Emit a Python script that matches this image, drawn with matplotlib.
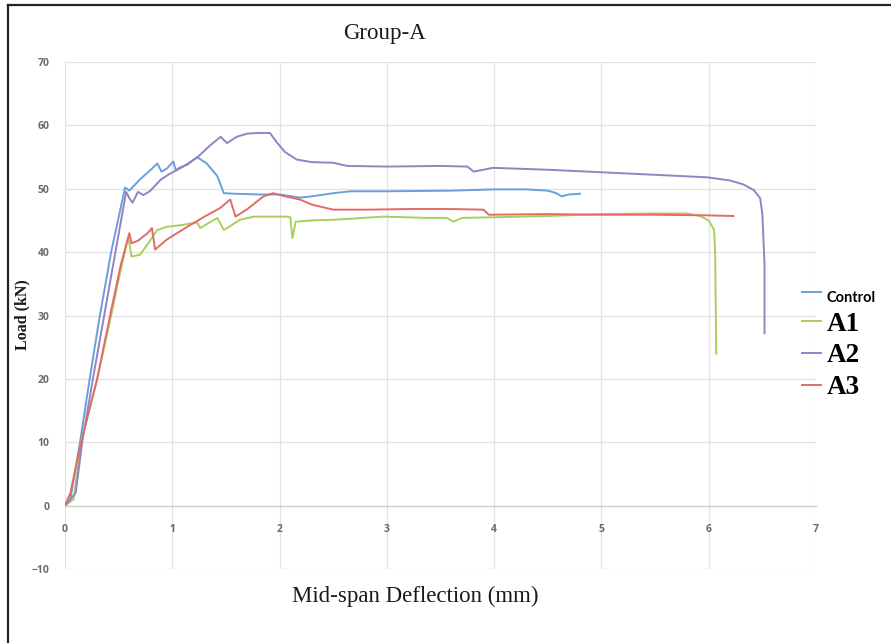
import matplotlib
matplotlib.use("Agg")
import matplotlib.pyplot as plt
from matplotlib.lines import Line2D
from matplotlib.font_manager import FontProperties

# load-deflection curves
control_x = [0, 0.05, 0.14, 0.23, 0.32, 0.43, 0.56, 0.6, 0.7, 0.8, 0.86, 0.9, 0.95, 1.01, 1.03,
             1.08, 1.14, 1.23, 1.32, 1.42, 1.48, 1.6, 1.8, 2.0, 2.19, 2.3, 2.38, 2.5, 2.66, 3.0,
             3.6, 4.0, 4.3, 4.5, 4.58, 4.63, 4.7, 4.8]
control_y = [0, 1, 10, 20, 29.5, 40, 50.2, 49.7, 51.5, 53, 54, 52.7, 53.2, 54.3, 53,
             53.4, 53.8, 55, 54, 52, 49.3, 49.2, 49.1, 49.1, 48.6, 48.8, 49, 49.3, 49.6, 49.6,
             49.7, 49.9, 49.9, 49.7, 49.3, 48.8, 49.1, 49.2]

a1_x = [0, 0.08, 0.15, 0.3, 0.43, 0.53, 0.59, 0.62, 0.7, 0.78, 0.86, 0.95, 1.1, 1.23, 1.26,
        1.32, 1.42, 1.48, 1.53, 1.63, 1.76, 2.07, 2.1, 2.12, 2.15, 2.3, 2.5, 2.97, 3.38, 3.56,
        3.62, 3.7, 4.0, 4.5, 5.0, 5.5, 5.8, 5.92, 6.0, 6.05, 6.06, 6.07]
a1_y = [0, 1, 10, 20, 30, 38, 42.4, 39.3, 39.6, 41.5, 43.5, 44, 44.3, 44.7, 43.8,
        44.4, 45.4, 43.5, 44, 45.1, 45.6, 45.6, 45.5, 42.2, 44.8, 45.0, 45.1, 45.6, 45.4, 45.4,
        44.8, 45.4, 45.5, 45.7, 46.0, 46.1, 46.1, 45.7, 45.0, 43.5, 40, 24]

a2_x = [0, 0.1, 0.16, 0.26, 0.36, 0.47, 0.57, 0.6, 0.63, 0.68, 0.73, 0.79, 0.89, 0.97, 1.05,
        1.15, 1.23, 1.35, 1.45, 1.51, 1.6, 1.7, 1.8, 1.91, 1.98, 2.05, 2.16, 2.3, 2.5, 2.63,
        3.0, 3.5, 3.75, 3.81, 3.9, 3.99, 4.5, 5.0, 5.5, 5.99, 6.2, 6.32, 6.42, 6.48, 6.5,
        6.52, 6.52]
a2_y = [0, 2, 10, 20, 29.5, 40, 49.5, 48.5, 47.8, 49.5, 49, 49.6, 51.4, 52.3, 53,
        54, 54.9, 56.8, 58.2, 57.2, 58.2, 58.7, 58.8, 58.8, 57.2, 55.8, 54.6, 54.2, 54.1, 53.6,
        53.5, 53.6, 53.5, 52.7, 53.0, 53.3, 53.0, 52.6, 52.2, 51.8, 51.3, 50.7, 49.8, 48.5, 46,
        38, 27.2]

a3_x = [0, 0.05, 0.15, 0.3, 0.42, 0.52, 0.6, 0.62, 0.68, 0.77, 0.81, 0.84, 0.95, 1.14, 1.3,
        1.45, 1.54, 1.59, 1.7, 1.85, 1.94, 2.05, 2.19, 2.3, 2.5, 2.8, 3.2, 3.6, 3.9, 3.95,
        4.5, 5.0, 5.5, 6.0, 6.23]
a3_y = [0, 2, 10, 20, 30, 38, 43, 41.4, 41.8, 43, 43.8, 40.4, 42, 44, 45.6,
        47, 48.3, 45.6, 46.8, 48.8, 49.3, 48.8, 48.3, 47.5, 46.7, 46.7, 46.8, 46.8, 46.7, 45.9,
        46.0, 45.9, 45.9, 45.8, 45.7]

series = [
    ("Control", control_x, control_y, "#6a9fd8"),
    ("A1", a1_x, a1_y, "#a9cf5c"),
    ("A2", a2_x, a2_y, "#9283c4"),
    ("A3", a3_x, a3_y, "#e36b66"),
]

x_ticks = [0, 1, 2, 3, 4, 5, 6, 7]
y_ticks = [-10, 0, 10, 20, 30, 40, 50, 60, 70]

W, H = 891, 643
fig = plt.figure(figsize=(W / 100, H / 100), dpi=100)
ax = fig.add_axes([65 / W, 1 - 569 / H, (816 - 65) / W, (569 - 62) / H])

lines = []
for name, xs, ys, color in series:
    ln, = ax.plot(xs, ys, color=color, linewidth=1.4, label=name, solid_joinstyle="round")
    lines.append(ln)

ax.set_xlim(0, 7)
ax.set_ylim(-10, 70)
ax.set_xticks(x_ticks)
ax.set_yticks(y_ticks)
ax.grid(True, color="#e2e2e2", linewidth=0.9)
ax.set_axisbelow(True)
for side in ("top", "right", "left"):
    ax.spines[side].set_visible(False)
ax.spines["bottom"].set_position(("data", 0))
ax.spines["bottom"].set_color("#d0d0d0")
ax.spines["bottom"].set_linewidth(1.0)

tick_font = FontProperties(family="Open Sans", weight="bold", size=7.5)
ax.tick_params(axis="both", length=0, colors="#6b6b6b")
ax.tick_params(axis="x", pad=13)
ax.tick_params(axis="y", pad=11)
for lab in ax.get_xticklabels() + ax.get_yticklabels():
    lab.set_fontproperties(tick_font)

fig.text(385 / W, 1 - 33 / H, "Group-A", family="Liberation Serif", fontsize=16.5,
         ha="center", va="center", color="#1a1a1a")
fig.text(415 / W, 1 - 596 / H, "Mid-span Deflection (mm)", family="Liberation Serif",
         fontsize=16.5, ha="center", va="center", color="#1a1a1a")
fig.text(22 / W, 1 - 315 / H, "Load (kN)", family="Liberation Serif", weight="bold",
         fontsize=11.5, rotation=90, ha="center", va="center", color="#1a1a1a")

leg = ax.legend(handles=lines, loc="upper left", bbox_to_anchor=(802 / W, 1 - 283 / H),
                bbox_transform=fig.transFigure, frameon=False, borderpad=0,
                borderaxespad=0, handlelength=0.7, handletextpad=0.2, labelspacing=0.25,
                prop=FontProperties(family="Liberation Serif", weight="bold", size=19.5))
leg.get_texts()[0].set_fontproperties(FontProperties(family="Lato", weight="bold", size=10.5))

# screenshot frame (left and top edges only)
fig.add_artist(Line2D([8 / W, 8 / W], [0, 1 - 5 / H], transform=fig.transFigure,
                      color="#222222", linewidth=1.6))
fig.add_artist(Line2D([8 / W, 1], [1 - 5 / H, 1 - 5 / H], transform=fig.transFigure,
                      color="#222222", linewidth=1.6))

fig.savefig("out.png", dpi=100)
